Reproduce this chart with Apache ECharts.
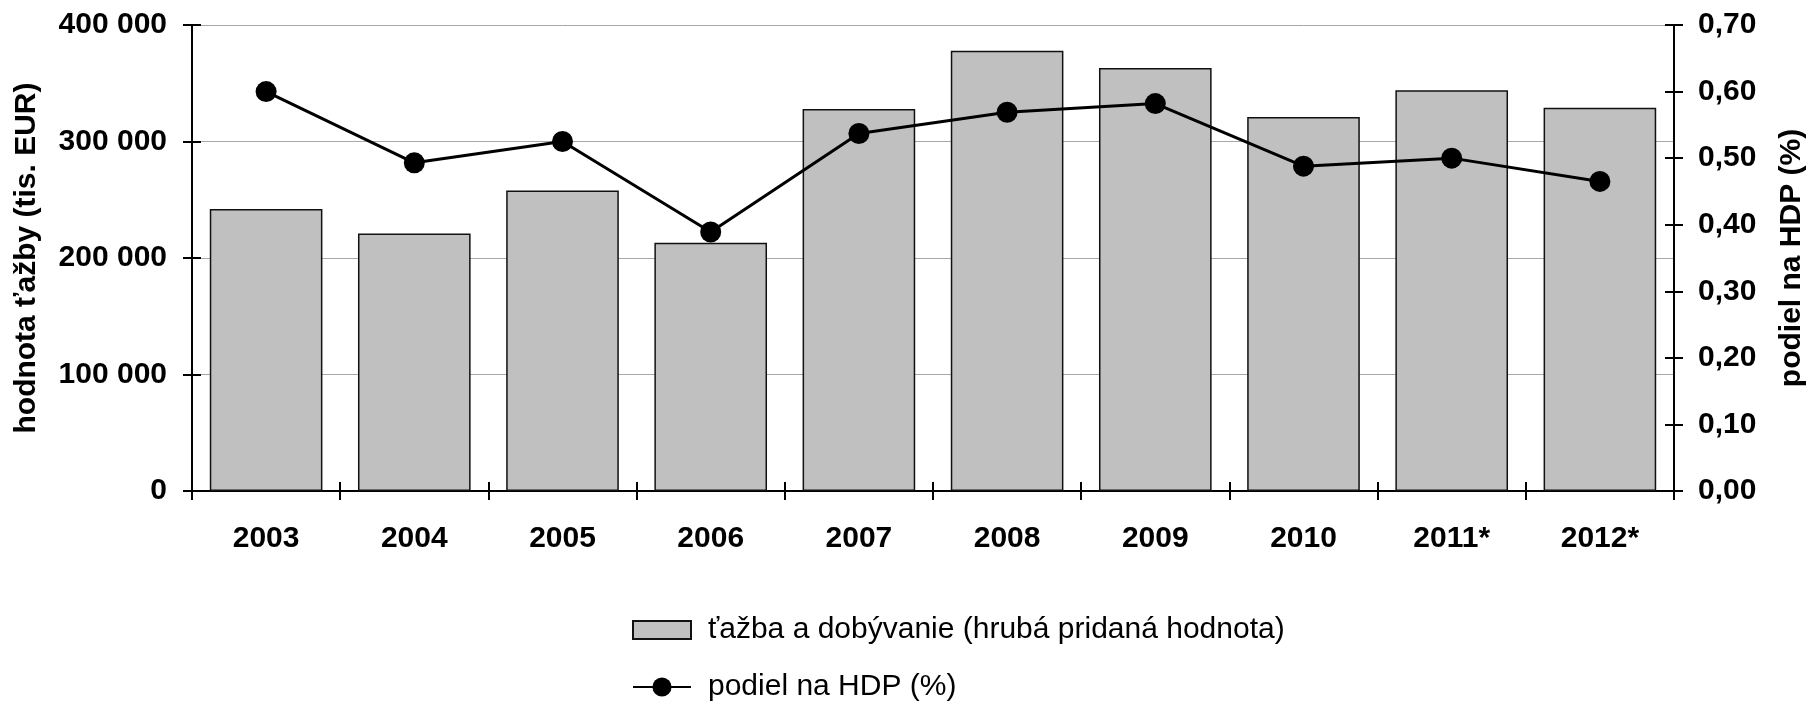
<!DOCTYPE html>
<html>
<head>
<meta charset="utf-8">
<script src="https://cdn.jsdelivr.net/npm/echarts@6/dist/echarts.min.js"></script>
<style>
  html, body { margin: 0; padding: 0; background: #fff; }
  #chart { width: 1808px; height: 704px; }
</style>
</head>
<body>
<div id="chart"></div>
<script>
// data
const years = ['2003', '2004', '2005', '2006', '2007', '2008', '2009', '2010', '2011*', '2012*'];
const miningValue = [242000, 221000, 258000, 213000, 328000, 378000, 363000, 321000, 344000, 329000];
const gdpShare = [0.600, 0.493, 0.525, 0.389, 0.537, 0.569, 0.582, 0.488, 0.500, 0.465];

const barName = 'ťažba a dobývanie (hrubá pridaná hodnota)';
const lineName = 'podiel na HDP (%)';

const font = '"Liberation Sans", Arial, sans-serif';

const fmtThousands = v => String(v).replace(/\B(?=(\d{3})+(?!\d))/g, ' ');
const fmtShare = v => v.toFixed(2).replace('.', ',');

const chart = echarts.init(document.getElementById('chart'));

const axisLine = { show: true, lineStyle: { color: '#000', width: 2 } };
const tickOut = { show: true, length: 9, lineStyle: { color: '#000', width: 2 } };
const tickIn = { show: true, inside: true, length: 9, lineStyle: { color: '#000', width: 2 } };
const boldLabel = { fontFamily: font, fontWeight: 'bold', fontSize: 30, color: '#000' };
const nameStyle = { fontFamily: font, fontWeight: 'bold', fontSize: 30, color: '#000' };

const option = {
  animation: false,
  grid: { left: 192, right: 134, top: 25, bottom: 213, containLabel: false, outerBoundsMode: 'none' },
  legend: {
    orient: 'vertical',
    left: 632,
    top: 615,
    padding: 0,
    itemWidth: 58,
    itemHeight: 24,
    itemGap: 27,
    textStyle: { fontFamily: font, fontSize: 30, color: '#000', padding: [0, 0, 0, 12] },
    data: [
      // thin rect, invisible move-to points keep the icon box 24 tall
      { name: barName, icon: 'path://M0,0M0,3h58v18h-58zM0,24' },
      { name: lineName }
    ]
  },
  xAxis: [
    {
      type: 'category',
      data: years,
      axisLine: axisLine,
      axisTick: tickOut,
      axisLabel: Object.assign({ margin: 33 }, boldLabel)
    },
    {
      type: 'category',
      data: years,
      position: 'bottom',
      axisLine: { show: false },
      axisTick: tickIn,
      axisLabel: { show: false }
    }
  ],
  yAxis: [
    {
      type: 'value',
      min: 0,
      max: 400000,
      interval: 100000,
      position: 'left',
      name: 'hodnota ťažby (tis. EUR)',
      nameLocation: 'middle',
      nameRotate: 90,
      nameGap: 150,
      nameTextStyle: nameStyle,
      axisLine: axisLine,
      axisTick: tickOut,
      axisLabel: Object.assign({ margin: 25, formatter: fmtThousands }, boldLabel),
      splitLine: { show: true, lineStyle: { color: '#a8a8a8', width: 1 } }
    },
    {
      type: 'value',
      min: 0,
      max: 0.7,
      interval: 0.1,
      position: 'right',
      name: 'podiel na HDP (%)',
      nameLocation: 'middle',
      nameRotate: 90,
      nameGap: 103,
      nameTextStyle: nameStyle,
      axisLine: axisLine,
      axisTick: tickOut,
      axisLabel: Object.assign({ margin: 24, formatter: fmtShare }, boldLabel),
      splitLine: { show: false }
    },
    {
      type: 'value',
      min: 0,
      max: 400000,
      interval: 100000,
      position: 'left',
      axisLine: { show: false },
      axisTick: tickIn,
      axisLabel: { show: false },
      splitLine: { show: false }
    },
    {
      type: 'value',
      min: 0,
      max: 0.7,
      interval: 0.1,
      position: 'right',
      axisLine: { show: false },
      axisTick: tickIn,
      axisLabel: { show: false },
      splitLine: { show: false }
    }
  ],
  series: [
    {
      name: barName,
      type: 'bar',
      yAxisIndex: 0,
      data: miningValue,
      barCategoryGap: '24%',
      itemStyle: { color: '#c0c0c0', borderColor: '#111', borderWidth: 1.5 }
    },
    {
      name: lineName,
      type: 'line',
      yAxisIndex: 1,
      data: gdpShare,
      symbol: 'circle',
      symbolSize: 21,
      lineStyle: { color: '#000', width: 3 },
      itemStyle: { color: '#000' }
    }
  ]
};

chart.setOption(option);
</script>
</body>
</html>
